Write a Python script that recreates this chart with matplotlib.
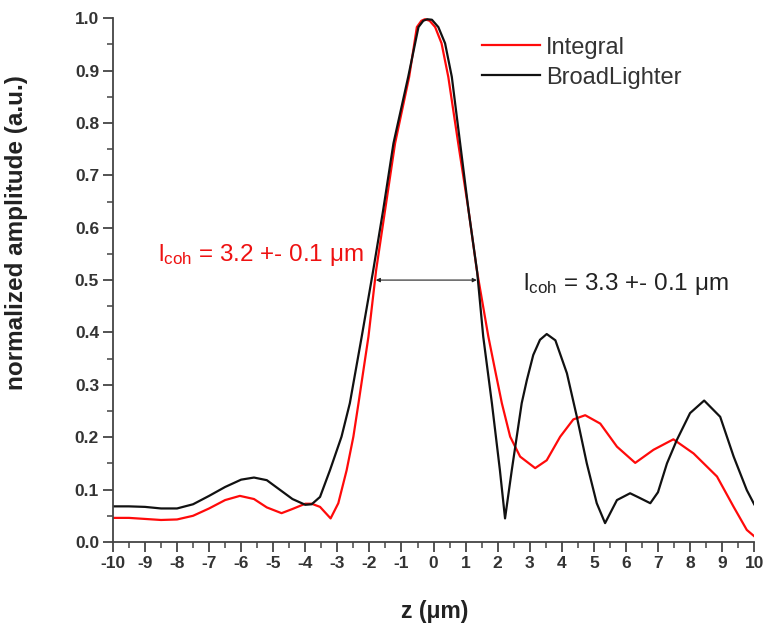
import numpy as np
import matplotlib
matplotlib.use("Agg")
import matplotlib.pyplot as plt

plt.rcParams['font.family'] = ['Liberation Sans', 'DejaVu Sans']
plt.rcParams['mathtext.fontset'] = 'custom'
plt.rcParams['mathtext.rm'] = 'Liberation Sans'
plt.rcParams['mathtext.it'] = 'Liberation Sans:italic'
plt.rcParams['mathtext.bf'] = 'Liberation Sans:bold'
plt.rcParams['axes.unicode_minus'] = False

# values
z_integral = [-10, -9.5, -9, -8.5, -8, -7.5, -7, -6.5, -6.04, -5.6, -5.2, -4.74, -4.4,
              -4.0, -3.8, -3.54, -3.21, -2.97, -2.71, -2.5, -2.34, -2.03, -1.79, -1.51,
              -1.2, -0.76, -0.52, -0.38, -0.27, -0.12, 0.05, 0.25, 0.46, 0.77, 1.09, 1.35,
              1.71, 1.92, 2.13, 2.39, 2.7, 3.17, 3.53, 3.95, 4.36, 4.73, 5.2, 5.72, 6.29,
              6.86, 7.48, 8.11, 8.84, 9.36, 9.77, 10.0]
a_integral = [0.046, 0.046, 0.044, 0.042, 0.043, 0.050, 0.064, 0.080, 0.088, 0.082, 0.066,
              0.055, 0.063, 0.073, 0.073, 0.067, 0.045, 0.074, 0.137, 0.201, 0.265, 0.392,
              0.519, 0.634, 0.761, 0.888, 0.983, 0.995, 0.998, 0.995, 0.983, 0.952, 0.888,
              0.761, 0.634, 0.519, 0.392, 0.328, 0.265, 0.201, 0.163, 0.141, 0.156, 0.201,
              0.234, 0.242, 0.226, 0.182, 0.151, 0.176, 0.196, 0.169, 0.125, 0.067, 0.023,
              0.011]

z_broad = [-10, -9.5, -9, -8.5, -8, -7.5, -7, -6.5, -6, -5.6, -5.2, -4.8, -4.4, -4.0,
           -3.8, -3.54, -3.23, -2.87, -2.61, -2.24, -1.88, -1.57, -1.25, -0.79, -0.47,
           -0.32, -0.2, -0.05, 0.15, 0.36, 0.57, 0.83, 1.09, 1.36, 1.55, 1.82, 2.07, 2.23,
           2.44, 2.75, 2.91, 3.11, 3.32, 3.53, 3.8, 4.16, 4.47, 4.78, 5.09, 5.35, 5.72,
           6.13, 6.4, 6.76, 7.0, 7.28, 7.59, 8.0, 8.44, 8.94, 9.36, 9.77, 10.0]
a_broad = [0.068, 0.068, 0.067, 0.064, 0.064, 0.072, 0.088, 0.105, 0.119, 0.123, 0.118,
           0.100, 0.082, 0.071, 0.072, 0.086, 0.137, 0.201, 0.265, 0.392, 0.519, 0.634,
           0.761, 0.888, 0.983, 0.995, 0.998, 0.997, 0.983, 0.952, 0.888, 0.761, 0.634,
           0.516, 0.392, 0.265, 0.137, 0.045, 0.137, 0.265, 0.309, 0.357, 0.386, 0.397,
           0.385, 0.322, 0.239, 0.150, 0.074, 0.036, 0.080, 0.093, 0.085, 0.074, 0.095,
           0.150, 0.195, 0.246, 0.270, 0.239, 0.163, 0.099, 0.072]

fwhm_left, fwhm_right, fwhm_level = -1.8, 1.35, 0.5

fig = plt.figure(figsize=(7.68, 6.27), dpi=100)
ax = fig.add_axes([0.147, 0.1356, 0.835, 0.8354])

ax.plot(z_integral, a_integral, color='#ff0a0a', lw=1.6, label='Integral')
ax.plot(z_broad, a_broad, color='#111111', lw=1.6, label='BroadLighter')

ax.annotate('', xy=(fwhm_left, fwhm_level), xytext=(fwhm_right, fwhm_level),
            arrowprops=dict(arrowstyle='<|-|>', color='#222222', lw=0.8,
                            mutation_scale=6, shrinkA=0, shrinkB=0))

ax.text(-8.6, 0.536, r'l$_{\mathrm{coh}}$ = 3.2 +- 0.1 μm', color='#ee1111',
        fontsize=17.5, va='baseline', ha='left')
ax.text(2.79, 0.481, r'l$_{\mathrm{coh}}$ = 3.3 +- 0.1 μm', color='#222222',
        fontsize=17.5, va='baseline', ha='left')

ax.set_xlim(-10, 10)
ax.set_ylim(0, 1.0)
ax.set_xticks(np.arange(-10, 11, 1))
ax.set_xticks(np.arange(-9.5, 10, 1), minor=True)
ax.set_yticks(np.arange(0, 1.01, 0.1))
ax.set_yticks(np.arange(0.05, 1.0, 0.1), minor=True)
ax.set_yticklabels(['%.1f' % v for v in np.arange(0, 1.01, 0.1)])

for s in ['top', 'right']:
    ax.spines[s].set_visible(False)
for s in ['left', 'bottom']:
    ax.spines[s].set_color('#444444')
    ax.spines[s].set_linewidth(1.3)

ax.tick_params(which='major', direction='out', length=7, width=1.3, color='#444444',
               labelsize=12.5, labelcolor='#333333', pad=3)
ax.tick_params(which='minor', direction='out', length=4, width=1.1, color='#444444')
for lab in ax.get_xticklabels() + ax.get_yticklabels():
    lab.set_fontweight('bold')

ax.set_xlabel('z (μm)', fontsize=16.5, fontweight='bold', color='#222222')
ax.set_ylabel('normalized amplitude (a.u.)', fontsize=17.5, fontweight='bold',
              color='#222222')
ax.xaxis.set_label_coords(0.502, -0.11)
ax.yaxis.set_label_coords(-0.133, 0.59)

leg = ax.legend(loc='upper left', bbox_to_anchor=(0.5757, 0.965), frameon=False,
                fontsize=17, handlelength=2.45, handletextpad=0.25, labelspacing=0.34,
                borderaxespad=0, borderpad=0)
for t in leg.get_texts():
    t.set_color('#333333')

fig.savefig('out.png', dpi=100)
